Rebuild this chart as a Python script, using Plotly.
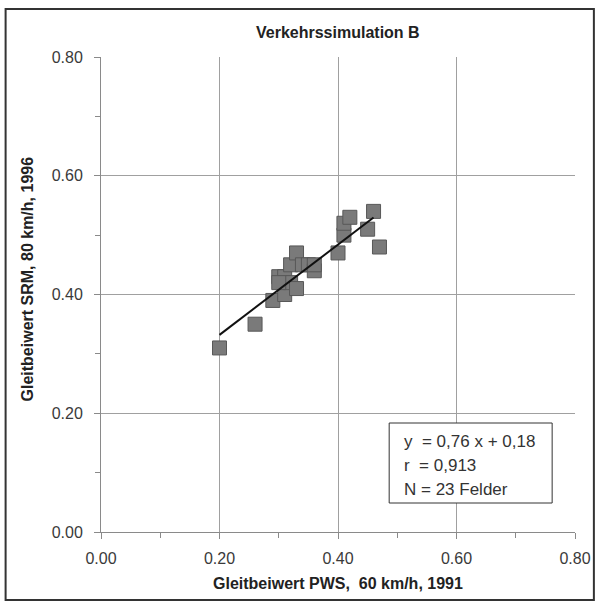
import plotly.graph_objects as go

# data
pws_1991 = [0.20, 0.26, 0.29, 0.30, 0.31, 0.31, 0.31, 0.32, 0.32, 0.33, 0.34, 0.35,
            0.36, 0.36, 0.40, 0.41, 0.41, 0.42, 0.45, 0.46, 0.47, 0.33, 0.30]
srm_1996 = [0.31, 0.35, 0.39, 0.43, 0.43, 0.42, 0.40, 0.42, 0.45, 0.47, 0.45, 0.45,
            0.44, 0.45, 0.47, 0.50, 0.52, 0.53, 0.51, 0.54, 0.48, 0.41, 0.42]
fit_slope = 0.76
fit_intercept = 0.18
fit_x = [0.20, 0.46]
fit_y = [fit_slope * v + fit_intercept for v in fit_x]
tick_vals = [0.0, 0.2, 0.4, 0.6, 0.8]
tick_text = ["0.00", "0.20", "0.40", "0.60", "0.80"]
stats_lines = ["y\u00a0\u00a0= 0,76 x + 0,18", "r\u00a0\u00a0= 0,913", "N = 23 Felder"]

FONT = "Liberation Sans, Arial, sans-serif"
W, H = 603, 604
L, R, T, B = 101, 25, 57, 72
pw, ph = W - L - R, H - T - B

def px_x(p):
    return (p - L) / pw

def px_y(p):
    return (H - B - p) / ph

fig = go.Figure()
fig.add_trace(go.Scatter(
    x=pws_1991, y=srm_1996, mode="markers",
    marker=dict(symbol="square", size=14, color="#7a7a7a",
                line=dict(color="#585858", width=1)),
    showlegend=False, hoverinfo="x+y"))
fig.add_trace(go.Scatter(
    x=fit_x, y=fit_y, mode="lines",
    line=dict(color="#111111", width=2), showlegend=False))

axis_common = dict(
    range=[0, 0.8], tickvals=tick_vals, ticktext=tick_text,
    showgrid=True, gridcolor="#a0a0a0", gridwidth=1,
    zeroline=False, showline=True, linecolor="#8a8a8a", linewidth=1,
    ticks="outside", ticklen=6, tickcolor="#8a8a8a", tickwidth=1,
    minor=dict(dtick=0.1, tick0=0, ticks="outside", ticklen=5,
               tickcolor="#8a8a8a", showgrid=False),
    tickfont=dict(family=FONT, size=16, color="#3a3a3a"),
    fixedrange=True,
)
fig.update_xaxes(**axis_common, ticklabelstandoff=6)
fig.update_yaxes(**axis_common, ticklabelstandoff=8)

shapes = [
    # outer frame
    dict(type="rect", xref="paper", yref="paper",
         x0=px_x(5), x1=px_x(597), y0=px_y(600), y1=px_y(9),
         line=dict(color="#333333", width=2), fillcolor="rgba(0,0,0,0)", layer="below"),
    # stats box
    dict(type="rect", xref="paper", yref="paper",
         x0=px_x(391), x1=px_x(555), y0=px_y(503), y1=px_y(423),
         line=dict(color="#333333", width=1), fillcolor="white", layer="above"),
]

annotations = [
    dict(text="<b>Verkehrssimulation B</b>", xref="paper", yref="paper",
         x=0.5, y=px_y(33), xanchor="center", yanchor="middle", showarrow=False,
         font=dict(family=FONT, size=16, color="#222222")),
    dict(text="<b>Gleitbeiwert PWS,\u00a0 60 km/h, 1991</b>", xref="paper", yref="paper",
         x=0.5, y=px_y(583), xanchor="center", yanchor="middle", showarrow=False,
         font=dict(family=FONT, size=16, color="#222222")),
    dict(text="<b>Gleitbeiwert SRM, 80 km/h, 1996</b>", xref="paper", yref="paper",
         x=px_x(27), y=px_y(279), xanchor="center", yanchor="middle", showarrow=False,
         textangle=-90, font=dict(family=FONT, size=16, color="#222222")),
]
for i, line in enumerate(stats_lines):
    annotations.append(dict(
        text=line, xref="paper", yref="paper",
        x=px_x(404), y=px_y(441 + 24 * i), xanchor="left", yanchor="middle",
        align="left", showarrow=False,
        font=dict(family=FONT, size=17, color="#333333")))

fig.update_layout(
    width=W, height=H, autosize=False,
    margin=dict(l=L, r=R, t=T, b=B, pad=0),
    paper_bgcolor="white", plot_bgcolor="white",
    shapes=shapes, annotations=annotations,
    font=dict(family=FONT),
)

fig.write_html("out.html")
